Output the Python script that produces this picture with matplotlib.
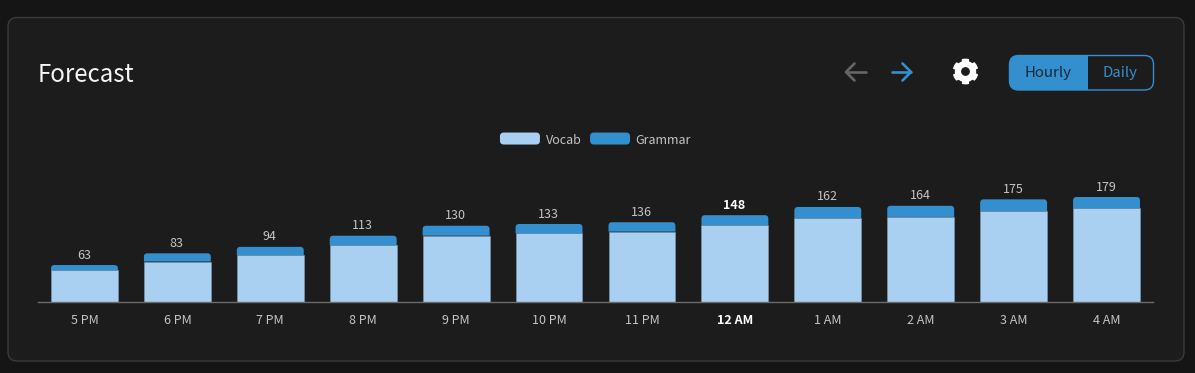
import numpy as np
import matplotlib
matplotlib.use("Agg")
import matplotlib.pyplot as plt
from matplotlib.path import Path
from matplotlib.patches import PathPatch, FancyBboxPatch, Rectangle
from matplotlib.legend_handler import HandlerPatch

hours = ["5 PM", "6 PM", "7 PM", "8 PM", "9 PM", "10 PM", "11 PM", "12 AM", "1 AM", "2 AM", "3 AM", "4 AM"]
vocab = [54, 69, 80, 97, 113, 117, 120, 131, 143, 145, 155, 160]
grammar = [9, 14, 14, 16, 17, 16, 16, 17, 19, 19, 20, 19]
totals = [63, 83, 94, 113, 130, 133, 136, 148, 162, 164, 175, 179]
current = "12 AM"

BG = "#151515"
CARD = "#1c1c1c"
BORDER = "#3b3b3b"
LIGHT = "#A9CFF1"
BLUE = "#348FCE"
TEXT = "#c4c4c4"
plt.rcParams["font.family"] = ["Noto Sans CJK JP", "DejaVu Sans"]

W, H = 1195, 373
fig = plt.figure(figsize=(W / 100, H / 100), dpi=100, facecolor=BG)

# pixel-coordinate overlay for the card and the controls
ui = fig.add_axes([0, 0, 1, 1], zorder=0)
ui.set_xlim(0, W)
ui.set_ylim(H, 0)
ui.axis("off")
ui.add_patch(FancyBboxPatch((8, 17.5), 1176, 343.5, boxstyle="round,pad=0,rounding_size=9",
                            fc=CARD, ec=BORDER, lw=1))
ui.text(38, 71.5, "Forecast", color="#f4f4f4", fontsize=17.3, va="center_baseline", ha="left")

# arrows
for (x0, x1, tip, col) in [(866, 846, -1, "#666666"), (892, 911, 1, BLUE)]:
    ui.plot([x0, x1], [72, 72], color=col, lw=1.9, solid_capstyle="round")
    ui.plot([x1 - tip * 8.5, x1, x1 - tip * 8.5], [63.5, 72, 80.5], color=col, lw=1.9,
            solid_capstyle="round", solid_joinstyle="round")

# gear icon
cx, cy = 965.5, 71.5
ang = np.deg2rad(np.arange(0, 360, 1))
teeth = 6
phase = (ang * teeth / (2 * np.pi) + 0.25) % 1
r = np.where(phase < 0.5, 12.2, 10.0)
gx = cx + r * np.sin(ang)
gy = cy - r * np.cos(ang)
ui.fill(gx, gy, color="#ffffff", lw=1.0, ec="#ffffff", joinstyle="round")
ui.add_patch(plt.Circle((cx, cy), 4.4, fc=CARD, ec="none"))

# toggle
outer = FancyBboxPatch((1009.5, 55.5), 144, 34.5, boxstyle="round,pad=0,rounding_size=9",
                       fc=CARD, ec=BLUE, lw=1)
ui.add_patch(outer)
fill = Rectangle((1009, 55), 79, 35.5, fc=BLUE, ec="none")
ui.add_patch(fill)
fill.set_clip_path(outer)
ui.text(1048, 72, "Hourly", color="#16293a", fontsize=10.8, ha="center", va="center_baseline")
ui.text(1120.5, 72, "Daily", color=BLUE, fontsize=10.8, ha="center", va="center_baseline")

# chart axes
L, R, T, B = 38, 1153, 120, 302
ax = fig.add_axes([L / W, 1 - B / H, (R - L) / W, (B - T) / H], zorder=1)
ax.patch.set_alpha(0)
ax.set_xlim(-0.5, len(hours) - 0.5)
ax.set_ylim(0, (B - T) / 0.5866)
for s in ["top", "left", "right"]:
    ax.spines[s].set_visible(False)
ax.spines["bottom"].set_color("#6b6b6b")
ax.spines["bottom"].set_linewidth(1)
ax.set_yticks([])
ax.set_xticks(range(len(hours)))
ax.set_xticklabels(hours, fontsize=9, color=TEXT)
ax.tick_params(axis="x", length=0, pad=8.5)

width = 0.72
ux = width / 67 * 3.5   # corner radius, x data units
uy = 3.5 / 0.5866       # corner radius, y data units


def rounded_top(x, y0, y1):
    xl, xr = x - width / 2, x + width / 2
    ry = min(uy, y1 - y0)
    verts = [(xl, y0), (xl, y1 - ry), (xl, y1), (xl + ux, y1), (xr - ux, y1),
             (xr, y1), (xr, y1 - ry), (xr, y0), (xl, y0)]
    codes = [Path.MOVETO, Path.LINETO, Path.CURVE3, Path.CURVE3, Path.LINETO,
             Path.CURVE3, Path.CURVE3, Path.LINETO, Path.CLOSEPOLY]
    return Path(verts, codes)


xs = np.arange(len(hours))
ax.bar(xs, vocab, width=width, color=LIGHT, edgecolor="#7f9fbb", linewidth=0.4, label="Vocab", zorder=2)
for x, v, g, t, h in zip(xs, vocab, grammar, totals, hours):
    ax.add_patch(PathPatch(rounded_top(x, v, v + g), fc=BLUE, ec="none", zorder=3))
    hot = h == current
    ax.annotate(str(t), (x, t), xytext=(-0.4, 2.5), textcoords="offset points", ha="center", va="bottom",
                fontsize=9, color="#ffffff" if hot else TEXT, fontweight="bold" if hot else "normal")
for lab, h in zip(ax.get_xticklabels(), hours):
    if h == current:
        lab.set_color("#ffffff")
        lab.set_fontweight("bold")


class RoundHandler(HandlerPatch):
    def create_artists(self, legend, orig, xd, yd, width, height, fontsize, trans):
        p = FancyBboxPatch((-xd, -yd + height / 2 - 3.9), width, 8.64,
                           boxstyle="round,pad=0,rounding_size=2.8",
                           fc=orig.get_facecolor(), ec="none", transform=trans)
        return [p]


handles = [Rectangle((0, 0), 1, 1, fc=LIGHT), Rectangle((0, 0), 1, 1, fc=BLUE)]
leg = fig.legend(handles, ["Vocab", "Grammar"], loc="center", bbox_to_anchor=(595.5 / W, 1 - 140 / H),
                 ncol=2, frameon=False, fontsize=9, labelcolor=TEXT,
                 handler_map={Rectangle: RoundHandler()}, handlelength=3.2, handletextpad=0.45,
                 columnspacing=0.7, borderpad=0, borderaxespad=0)

fig.savefig("out.png", dpi=100, facecolor=BG)
